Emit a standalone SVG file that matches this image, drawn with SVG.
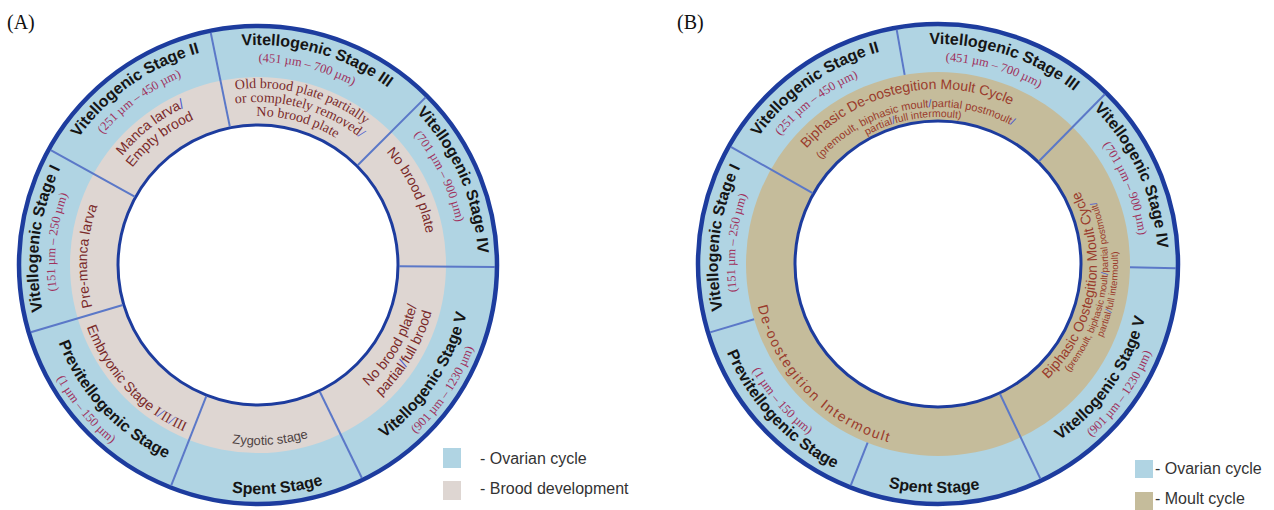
<svg xmlns="http://www.w3.org/2000/svg" xmlns:xlink="http://www.w3.org/1999/xlink" width="1274" height="510" viewBox="0 0 1274 510">
<style>
.ring{fill:#b0d4e3;stroke:#1d3c9e;stroke-width:4.5}
.brood{fill:#ded6d2}
.moult{fill:#c5bc9b}
.hole{fill:#fff;stroke:#1d3c9e;stroke-width:3}
.div{stroke:#5b78c8;stroke-width:2}
.t{font-family:'Liberation Sans',Arial,sans-serif;font-weight:bold;font-size:16px;fill:#151515}
.r{font-family:'Liberation Serif','Times New Roman',serif;font-size:12.5px;fill:#a0305c}
.b{font-family:'Liberation Sans',Arial,sans-serif;font-size:14px;fill:#7a2a2a}
.bs{font-family:'Liberation Serif','Times New Roman',serif;font-size:14px;fill:#7a2a2a}
.z{font-family:'Liberation Sans',Arial,sans-serif;font-size:13px;fill:#4e4444}
.m{font-family:'Liberation Sans',Arial,sans-serif;fill:#9a3b2c}
.sl{fill:#4a5ad0}
.lg{font-family:'Liberation Sans',Arial,sans-serif;font-size:16px;fill:#333}
.lab{font-family:'Liberation Serif','Times New Roman',serif;font-size:20px;fill:#111}
text{text-anchor:middle}
.lg,.lab{text-anchor:start}
</style>
<defs>
<path id="cw220" d="M0,220 A220,220 0 1,1 0,-220 A220,220 0 1,1 0,220"/>
<path id="cw203" d="M0,203 A203,203 0 1,1 0,-203 A203,203 0 1,1 0,203"/>
<path id="cw177" d="M0,177 A177,177 0 1,1 0,-177 A177,177 0 1,1 0,177"/>
<path id="cw175" d="M0,175 A175,175 0 1,1 0,-175 A175,175 0 1,1 0,175"/>
<path id="cw174" d="M0,174 A174,174 0 1,1 0,-174 A174,174 0 1,1 0,174"/>
<path id="cw171" d="M0,171 A171,171 0 1,1 0,-171 A171,171 0 1,1 0,171"/>
<path id="cw163" d="M0,163 A163,163 0 1,1 0,-163 A163,163 0 1,1 0,163"/>
<path id="cw159" d="M0,159 A159,159 0 1,1 0,-159 A159,159 0 1,1 0,159"/>
<path id="cw157" d="M0,157 A157,157 0 1,1 0,-157 A157,157 0 1,1 0,157"/>
<path id="cw149" d="M0,149 A149,149 0 1,1 0,-149 A149,149 0 1,1 0,149"/>
<path id="cw147" d="M0,147 A147,147 0 1,1 0,-147 A147,147 0 1,1 0,147"/>
<path id="ccw231" d="M0,-231 A231,231 0 1,0 0,231 A231,231 0 1,0 0,-231"/>
<path id="ccw229" d="M0,-229 A229,229 0 1,0 0,229 A229,229 0 1,0 0,-229"/>
<path id="ccw214" d="M0,-214 A214,214 0 1,0 0,214 A214,214 0 1,0 0,-214"/>
<path id="ccw185" d="M0,-185 A185,185 0 1,0 0,185 A185,185 0 1,0 0,-185"/>
<path id="ccw182" d="M0,-182 A182,182 0 1,0 0,182 A182,182 0 1,0 0,-182"/>
<path id="ccw180" d="M0,-180 A180,180 0 1,0 0,180 A180,180 0 1,0 0,-180"/>
<path id="ccw170" d="M0,-170 A170,170 0 1,0 0,170 A170,170 0 1,0 0,-170"/>
<path id="ccw164" d="M0,-164 A164,164 0 1,0 0,164 A164,164 0 1,0 0,-164"/>
<path id="ccw159" d="M0,-159 A159,159 0 1,0 0,159 A159,159 0 1,0 0,-159"/>
</defs>
<rect width="1274" height="510" fill="#fff"/>
<text class="lab" x="7" y="29">(A)</text>
<text class="lab" x="677" y="29">(B)</text>

<g id="diagramA" transform="translate(258,265)">
<g id="ringsA">
<circle class="ring" r="239"/>
<circle class="brood" r="188"/>
<circle class="hole" r="140"/>
</g>
<g id="connectorsA">
<line class="div" x1="0" y1="-141" x2="0" y2="-237" transform="rotate(299)"/>
<line class="div" x1="0" y1="-141" x2="0" y2="-237" transform="rotate(348.5)"/>
<line class="div" x1="0" y1="-141" x2="0" y2="-237" transform="rotate(45)"/>
<line class="div" x1="0" y1="-141" x2="0" y2="-237" transform="rotate(90.5)"/>
<line class="div" x1="0" y1="-141" x2="0" y2="-237" transform="rotate(154)"/>
<line class="div" x1="0" y1="-141" x2="0" y2="-237" transform="rotate(201.5)"/>
<line class="div" x1="0" y1="-141" x2="0" y2="-237" transform="rotate(253.5)"/>
</g>
<g id="A-stage2">
<text class="t" transform="rotate(-35)"><textPath href="#cw220" startOffset="50%">Vitellogenic Stage II</textPath></text>
<text class="r" transform="rotate(-36)"><textPath href="#cw203" startOffset="50%">(251 µm – 450 µm)</textPath></text>
<text class="b" font-size="15" transform="rotate(-38)"><textPath href="#cw174" startOffset="50%">Manca larva<tspan class="sl">/</tspan></textPath></text>
<text class="b" font-size="15" transform="rotate(-38)"><textPath href="#cw159" startOffset="50%">Empty brood</textPath></text>
</g>
<g id="A-stage3">
<text class="t" transform="rotate(16)"><textPath href="#cw220" startOffset="50%">Vitellogenic Stage III</textPath></text>
<text class="r" transform="rotate(14)"><textPath href="#cw203" startOffset="50%">(451 µm – 700 µm)</textPath></text>
<text class="bs" transform="rotate(15)"><textPath href="#cw177" startOffset="50%">Old brood plate  partially</textPath></text>
<text class="bs" transform="rotate(15.5)"><textPath href="#cw163" startOffset="50%">or completely removed<tspan class="sl">/</tspan></textPath></text>
<text class="bs" transform="rotate(15.5)"><textPath href="#cw149" startOffset="50%">No brood plate</textPath></text>
</g>
<g id="A-stage4">
<text class="t" transform="rotate(66.5)"><textPath href="#cw220" startOffset="50%">Vitellogenic Stage IV</textPath></text>
<text class="r" transform="rotate(64)"><textPath href="#cw203" startOffset="50%">(701 µm – 900 µm)</textPath></text>
<text class="b" transform="rotate(64)"><textPath href="#cw171" startOffset="50%">No brood plate</textPath></text>
</g>
<g id="A-stage5">
<text class="t" transform="rotate(-56.5)"><textPath href="#ccw214" startOffset="50%">Vitellogenic Stage V</textPath></text>
<text class="r" transform="rotate(-56)"><textPath href="#ccw231" startOffset="50%">(901 µm – 1230 µm)</textPath></text>
<text class="b" transform="rotate(-59)"><textPath href="#ccw164" startOffset="50%">No brood plate/</textPath></text>
<text class="b" transform="rotate(-59)"><textPath href="#ccw180" startOffset="50%">partial<tspan class="sl">/</tspan>full brood</textPath></text>
</g>
<g id="A-spent">
<text class="t" transform="rotate(-5)"><textPath href="#ccw229" startOffset="50%">Spent Stage</textPath></text>
<text class="z" transform="rotate(-4)"><textPath href="#ccw180" startOffset="50%">Zygotic stage</textPath></text>
</g>
<g id="A-previtellogenic">
<text class="t" transform="rotate(47)"><textPath href="#ccw214" startOffset="50%">Previtellogenic Stage</textPath></text>
<text class="r" transform="rotate(50)"><textPath href="#ccw231" startOffset="50%">(1 µm – 150 µm)</textPath></text>
<text class="b" transform="rotate(47)"><textPath href="#ccw182" startOffset="50%">Embryonic Stage <tspan font-family="'Liberation Serif',serif">I<tspan class="sl">/</tspan>II<tspan class="sl">/</tspan>III</tspan></textPath></text>
</g>
<g id="A-stage1">
<text class="t" transform="rotate(-83)"><textPath href="#cw220" startOffset="50%">Vitellogenic Stage I</textPath></text>
<text class="r" transform="rotate(-83.5)"><textPath href="#cw203" startOffset="50%">(151 µm – 250 µm)</textPath></text>
<text class="b" transform="rotate(-87)"><textPath href="#cw171" startOffset="50%">Pre-manca larva</textPath></text>
</g>
</g>

<g id="legendA">
<rect x="443" y="448" width="18" height="20" fill="#b0d4e3"/>
<text class="lg" x="480" y="464">- Ovarian cycle</text>
<rect x="443" y="481" width="18" height="19" fill="#ded6d2"/>
<text class="lg" x="480" y="494">- Brood development</text>
</g>

<g id="diagramB" transform="translate(938,264)">
<g id="ringsB">
<circle class="ring" r="240"/>
<circle class="moult" r="192"/>
<circle class="hole" r="143"/>
</g>
<g id="connectorsB">
<line class="div" x1="0" y1="-144" x2="0" y2="-238" transform="rotate(299.5)"/>
<line class="div" x1="0" y1="-192" x2="0" y2="-238" transform="rotate(350)"/>
<line class="div" x1="0" y1="-144" x2="0" y2="-238" transform="rotate(44.5)"/>
<line class="div" x1="0" y1="-192" x2="0" y2="-238" transform="rotate(91)"/>
<line class="div" x1="0" y1="-144" x2="0" y2="-238" transform="rotate(154.5)"/>
<line class="div" x1="0" y1="-192" x2="0" y2="-238" transform="rotate(201.5)"/>
<line class="div" x1="0" y1="-192" x2="0" y2="-238" transform="rotate(253.3)"/>
</g>
<g id="B-stage2">
<text class="t" transform="rotate(-35)"><textPath href="#cw220" startOffset="50%">Vitellogenic Stage II</textPath></text>
<text class="r" transform="rotate(-37)"><textPath href="#cw203" startOffset="50%">(251 µm – 450 µm)</textPath></text>
</g>
<g id="B-stage3">
<text class="t" transform="rotate(18)"><textPath href="#cw220" startOffset="50%">Vitellogenic Stage III</textPath></text>
<text class="r" transform="rotate(16)"><textPath href="#cw203" startOffset="50%">(451 µm – 700 µm)</textPath></text>
</g>
<g id="B-stage4">
<text class="t" transform="rotate(65.5)"><textPath href="#cw220" startOffset="50%">Vitellogenic Stage IV</textPath></text>
<text class="r" transform="rotate(68)"><textPath href="#cw203" startOffset="50%">(701 µm – 900 µm)</textPath></text>
</g>
<g id="B-stage5">
<text class="t" transform="rotate(-55)"><textPath href="#ccw214" startOffset="50%">Vitellogenic Stage V</textPath></text>
<text class="r" transform="rotate(-54.5)"><textPath href="#ccw231" startOffset="50%">(901 µm – 1230 µm)</textPath></text>
</g>
<g id="B-spent">
<text class="t" transform="rotate(1)"><textPath href="#ccw229" startOffset="50%">Spent Stage</textPath></text>
</g>
<g id="B-previtellogenic">
<text class="t" transform="rotate(47)"><textPath href="#ccw229" startOffset="50%">Previtellogenic Stage</textPath></text>
<text class="r" transform="rotate(48.7)"><textPath href="#ccw214" startOffset="50%">(1 µm – 150 µm)</textPath></text>
</g>
<g id="B-stage1">
<text class="t" transform="rotate(-83)"><textPath href="#cw220" startOffset="50%">Vitellogenic Stage I</textPath></text>
<text class="r" transform="rotate(-84)"><textPath href="#cw203" startOffset="50%">(151 µm – 250 µm)</textPath></text>
</g>
<g id="B-deoostegition-moult">
<text class="m" font-size="14" transform="rotate(-12)"><textPath href="#cw175" startOffset="50%">Biphasic De-oostegition Moult Cycle</textPath></text>
<text class="m" font-size="11" transform="rotate(-10)"><textPath href="#cw157" startOffset="50%">(premoult, biphasic  moult<tspan class="sl">/</tspan>partial postmoult<tspan class="sl">/</tspan></textPath></text>
<text class="m" font-size="10.5" transform="rotate(-10)"><textPath href="#cw147" startOffset="50%">partial<tspan class="sl">/</tspan>full intermoult)</textPath></text>
</g>
<g id="B-oostegition-moult">
<text class="m" font-size="14" transform="rotate(-80.5)"><textPath href="#ccw159" startOffset="50%">Biphasic Oostegition Moult Cycle</textPath></text>
<text class="m" font-size="9.5" transform="rotate(-81)"><textPath href="#ccw170" startOffset="50%">(premoult, biphasic  moult<tspan class="sl">/</tspan>partial postmoult<tspan class="sl">/</tspan></textPath></text>
<text class="m" font-size="9.5" transform="rotate(-80)"><textPath href="#ccw180" startOffset="50%">partial<tspan class="sl">/</tspan>full intermoult)</textPath></text>
</g>
<g id="B-intermoult">
<text class="m" font-size="14" letter-spacing="1.7" transform="rotate(46)"><textPath href="#ccw185" startOffset="50%">De-oostegition Intermoult</textPath></text>
</g>
</g>

<g id="legendB">
<rect x="1135" y="460" width="18" height="18" fill="#b0d4e3"/>
<text class="lg" x="1155" y="474">- Ovarian cycle</text>
<rect x="1135" y="492" width="18" height="18" fill="#c5bc9b"/>
<text class="lg" x="1155" y="504">- Moult cycle</text>
</g>
</svg>
